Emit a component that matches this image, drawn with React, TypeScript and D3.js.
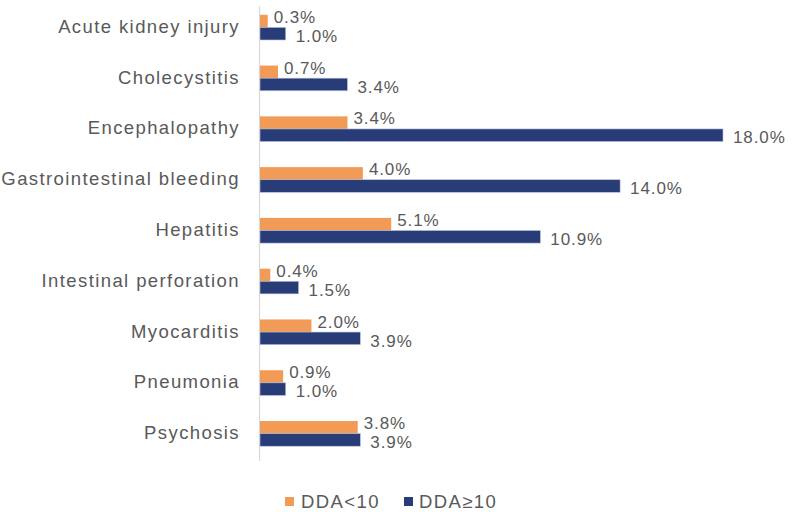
import React from "react";
import * as d3 from "d3";

const categories = [
  "Acute kidney injury",
  "Cholecystitis",
  "Encephalopathy",
  "Gastrointestinal bleeding",
  "Hepatitis",
  "Intestinal perforation",
  "Myocarditis",
  "Pneumonia",
  "Psychosis",
];
const ddaLow = [0.3, 0.7, 3.4, 4.0, 5.1, 0.4, 2.0, 0.9, 3.8];
const ddaHigh = [1.0, 3.4, 18.0, 14.0, 10.9, 1.5, 3.9, 1.0, 3.9];
const seriesNames = ["DDA<10", "DDA\u226510"];

const W = 792;
const H = 512;
const ORANGE = "#F29B56";
const NAVY = "#283D77";
const TEXT = "#595959";
const FONT = "'Liberation Sans', Arial, sans-serif";

export default function App() {
  const x = d3.scaleLinear().domain([0, 18]).range([260, 723]);
  const y = d3.scaleBand<string>().domain(categories).range([2, 459]).paddingInner(0).paddingOuter(0);
  const barH = 12.6;

  return (
    <svg width={W} height={H} style={{ position: "absolute", left: 0, top: 0 }}>
      <rect width={W} height={H} fill="#fff" />
      <line x1={259.5} x2={259.5} y1={6} y2={461} stroke="#d9d9d9" strokeWidth={1.2} />
      {categories.map((c, i) => {
        const cy = (y(c) as number) + y.bandwidth() / 2;
        return (
          <g key={c}>
            <text x={240} y={cy - 1} dy="0.35em" textAnchor="end" fontSize={18.5} letterSpacing={1.4} fill={TEXT} fontFamily={FONT}>
              {c}
            </text>
            <rect x={x(0)} y={cy - barH} width={x(ddaLow[i]) - x(0)} height={barH} fill={ORANGE} />
            <rect x={x(0)} y={cy} width={x(ddaHigh[i]) - x(0)} height={barH} fill={NAVY} stroke="#b8c2dc" strokeWidth={0.6} />
            <text x={x(ddaLow[i]) + 6} y={cy - 10.5} dy="0.35em" fontSize={17} letterSpacing={0.9} fill={TEXT} fontFamily={FONT}>
              {ddaLow[i].toFixed(1) + "%"}
            </text>
            <text x={x(ddaHigh[i]) + 10} y={cy + 8.5} dy="0.35em" fontSize={17} letterSpacing={0.9} fill={TEXT} fontFamily={FONT}>
              {ddaHigh[i].toFixed(1) + "%"}
            </text>
          </g>
        );
      })}
      <g fontFamily={FONT} fontSize={18.5} letterSpacing={1.4} fill={TEXT}>
        <rect x={285} y={497} width={9} height={9} fill={ORANGE} />
        <text x={301} y={502} dy="0.35em">{seriesNames[0]}</text>
        <rect x={404} y={497} width={9} height={9} fill={NAVY} />
        <text x={419} y={502} dy="0.35em">{seriesNames[1]}</text>
      </g>
    </svg>
  );
}
